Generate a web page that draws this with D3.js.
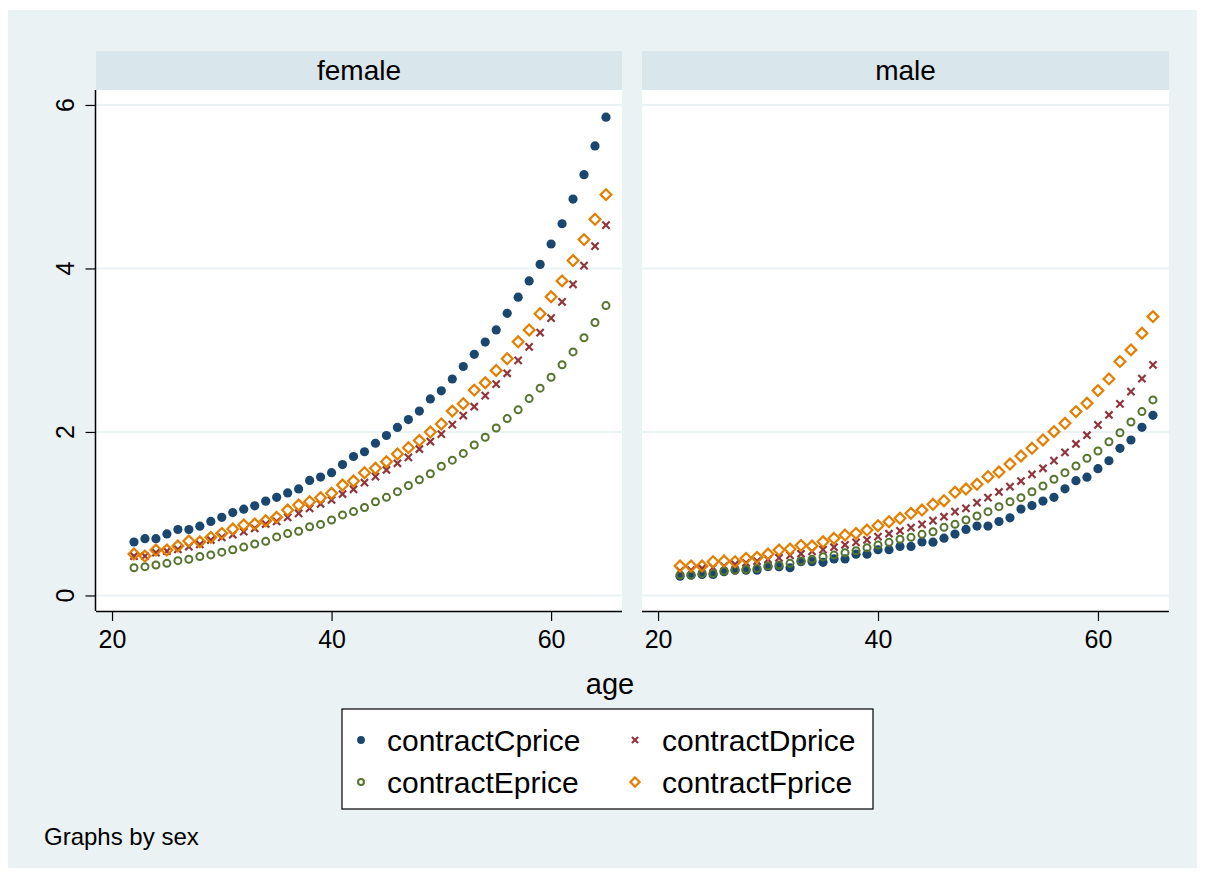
<!DOCTYPE html>
<html>
<head>
<meta charset="utf-8">
<script src="https://cdn.jsdelivr.net/npm/d3@7"></script>
<style>
  html, body { margin: 0; padding: 0; background: #ffffff; }
  svg { display: block; }
  text { font-family: "Liberation Sans", Arial, Helvetica, sans-serif; fill: #000; }
</style>
</head>
<body>
<svg id="chart" width="1205" height="878"></svg>
<script>
// ---- data: price by age for each contract, split by sex ----
const ages = [22,23,24,25,26,27,28,29,30,31,32,33,34,35,36,37,38,39,40,41,42,43,
              44,45,46,47,48,49,50,51,52,53,54,55,56,57,58,59,60,61,62,63,64,65];

const femaleC = [0.654,0.695,0.695,0.753,0.807,0.807,0.848,0.906,0.956,1.014,
                 1.055,1.096,1.154,1.200,1.254,1.303,1.407,1.448,1.502,1.601,
                 1.700,1.758,1.862,1.957,2.056,2.151,2.255,2.404,2.503,2.648,
                 2.801,2.950,3.099,3.248,3.451,3.649,3.848,4.050,4.299,4.547,
                 4.849,5.147,5.499,5.850];
const femaleD = [0.482,0.482,0.523,0.543,0.564,0.596,0.625,0.678,0.711,0.743,
                 0.780,0.821,0.874,0.907,0.956,1.005,1.066,1.119,1.168,1.241,
                 1.299,1.380,1.453,1.535,1.617,1.690,1.791,1.883,1.974,2.089,
                 2.201,2.309,2.445,2.586,2.718,2.875,3.041,3.215,3.393,3.591,
                 3.806,4.034,4.274,4.530];
const femaleE = [0.339,0.352,0.372,0.393,0.426,0.443,0.476,0.496,0.530,0.559,
                 0.592,0.629,0.662,0.716,0.757,0.786,0.840,0.869,0.923,0.985,
                 1.026,1.076,1.146,1.200,1.270,1.345,1.415,1.489,1.580,1.655,
                 1.738,1.841,1.936,2.048,2.164,2.271,2.408,2.536,2.669,2.822,
                 2.979,3.153,3.339,3.546];
const femaleF = [0.507,0.482,0.556,0.556,0.605,0.666,0.657,0.711,0.760,0.813,
                 0.862,0.874,0.914,0.956,1.045,1.106,1.147,1.196,1.250,1.351,
                 1.400,1.502,1.556,1.637,1.731,1.808,1.895,1.999,2.098,2.255,
                 2.346,2.512,2.602,2.752,2.896,3.103,3.248,3.447,3.654,3.848,
                 4.097,4.353,4.601,4.903];

const maleC = [0.236,0.248,0.257,0.257,0.290,0.310,0.310,0.310,0.352,0.352,
               0.339,0.414,0.414,0.405,0.447,0.447,0.505,0.505,0.559,0.559,
               0.600,0.600,0.654,0.652,0.701,0.751,0.808,0.849,0.849,0.905,
               0.950,1.057,1.100,1.155,1.200,1.305,1.404,1.447,1.551,1.648,
               1.800,1.902,2.057,2.203];
const maleD = [0.300,0.310,0.330,0.340,0.360,0.380,0.400,0.420,0.440,0.460,
               0.490,0.510,0.540,0.560,0.590,0.620,0.650,0.680,0.720,0.755,
               0.790,0.830,0.870,0.915,0.963,1.025,1.066,1.135,1.196,1.266,
               1.331,1.400,1.482,1.556,1.649,1.751,1.853,1.960,2.086,2.208,
               2.343,2.493,2.652,2.820];
const maleE = [0.250,0.250,0.270,0.270,0.299,0.311,0.319,0.331,0.360,0.372,
               0.393,0.421,0.442,0.474,0.494,0.523,0.547,0.584,0.617,0.650,
               0.687,0.711,0.748,0.780,0.833,0.870,0.923,0.972,1.025,1.086,
               1.147,1.196,1.269,1.339,1.421,1.502,1.584,1.678,1.767,1.881,
               1.991,2.122,2.249,2.392];
const maleF = [0.360,0.360,0.360,0.413,0.421,0.413,0.454,0.466,0.507,0.556,
               0.568,0.613,0.605,0.657,0.699,0.739,0.760,0.800,0.853,0.902,
               0.944,1.005,1.045,1.115,1.159,1.262,1.302,1.360,1.453,1.510,
               1.608,1.706,1.800,1.902,2.004,2.106,2.249,2.351,2.506,2.649,
               2.861,3.004,3.208,3.411];

const seriesNames = ["contractCprice", "contractDprice", "contractEprice", "contractFprice"];
const panelNames = ["female", "male"];
const xTicks = [20, 40, 60];
const yTicks = [0, 2, 4, 6];

// ---- styling ----
const colors = { contractCprice: "#1a476f", contractDprice: "#90353b",
                 contractEprice: "#55752f", contractFprice: "#e37e00" };
const shapes = { contractCprice: "dot", contractDprice: "cross",
                 contractEprice: "ring", contractFprice: "diamond" };

const panelData = {
  female: { contractCprice: femaleC, contractDprice: femaleD, contractEprice: femaleE, contractFprice: femaleF },
  male:   { contractCprice: maleC,   contractDprice: maleD,   contractEprice: maleE,   contractFprice: maleF }
};

const svg = d3.select("#chart");

// outer graph region
svg.append("rect").attr("x", 8).attr("y", 10).attr("width", 1189).attr("height", 858)
   .attr("fill", "#eaf2f3");

const plotTop = 90, plotBottom = 611;
const panels = [
  { name: panelNames[0], left: 96,  right: 622 },
  { name: panelNames[1], left: 642, right: 1169 }
];

const y = d3.scaleLinear().domain([-0.19, 6.183]).range([plotBottom, plotTop]);

function drawMarker(g, shape, color, cx, cy, s) {
  if (shape === "dot") {
    g.append("circle").attr("cx", cx).attr("cy", cy).attr("r", 4.6 * s).attr("fill", color);
  } else if (shape === "ring") {
    g.append("circle").attr("cx", cx).attr("cy", cy).attr("r", 3.5 * s)
     .attr("fill", "none").attr("stroke", color).attr("stroke-width", 2);
  } else if (shape === "diamond") {
    const d = 5.4 * s;
    g.append("path").attr("d", `M${cx},${cy - d}L${cx + d},${cy}L${cx},${cy + d}L${cx - d},${cy}Z`)
     .attr("fill", "none").attr("stroke", color).attr("stroke-width", 2.2);
  } else if (shape === "cross") {
    const d = 3.6 * s;
    g.append("path").attr("d", `M${cx - d},${cy - d}L${cx + d},${cy + d}M${cx - d},${cy + d}L${cx + d},${cy - d}`)
     .attr("stroke", color).attr("stroke-width", 2.2).attr("fill", "none");
  }
}

panels.forEach((p, pi) => {
  const x = d3.scaleLinear().domain([18.54, 66.46]).range([p.left, p.right]);
  const g = svg.append("g");

  // header strip
  g.append("rect").attr("x", p.left).attr("y", 51).attr("width", p.right - p.left).attr("height", 39)
   .attr("fill", "#d9e6eb");
  g.append("text").attr("x", (p.left + p.right) / 2).attr("y", 80)
   .attr("text-anchor", "middle").style("font-size", "28px").text(p.name);

  // plot region
  g.append("rect").attr("x", p.left).attr("y", plotTop).attr("width", p.right - p.left)
   .attr("height", plotBottom - plotTop).attr("fill", "#ffffff");

  // horizontal grid
  g.selectAll("line.grid").data(yTicks).join("line").attr("class", "grid")
   .attr("x1", p.left).attr("x2", p.right)
   .attr("y1", d => y(d)).attr("y2", d => y(d))
   .attr("stroke", "#eaf2f3").attr("stroke-width", 2);

  // x axis
  const xAxis = d3.axisBottom(x).tickValues(xTicks).tickSize(10).tickPadding(9).tickSizeOuter(0);
  const xg = g.append("g").attr("transform", `translate(0,${plotBottom})`).call(xAxis);
  xg.select(".domain").attr("d", `M${p.left},0.5H${p.right}`).attr("stroke", "#000").attr("stroke-width", 1.5);
  xg.selectAll(".tick line").attr("stroke", "#000").attr("stroke-width", 1.2);
  xg.selectAll(".tick text").style("font-size", "25px")
    .style("font-family", "'Liberation Sans', Arial, sans-serif").attr("fill", "#000");

  // y axis only on the first panel
  if (pi === 0) {
    const yAxis = d3.axisLeft(y).tickValues(yTicks).tickSize(10).tickSizeOuter(0).tickFormat("");
    const yg = g.append("g").attr("transform", `translate(${p.left - 0.5},0)`).call(yAxis);
    yg.select(".domain").attr("d", `M0,${plotTop}V${plotBottom}`).attr("stroke", "#000").attr("stroke-width", 1.5);
    yg.selectAll(".tick line").attr("stroke", "#000").attr("stroke-width", 1.2);
    g.selectAll("text.ylab").data(yTicks).join("text").attr("class", "ylab")
     .attr("transform", d => `translate(74,${y(d)}) rotate(-90)`)
     .attr("text-anchor", "middle").style("font-size", "25px").text(d => d);
  }

  // markers
  const mg = g.append("g");
  seriesNames.forEach(s => {
    const vals = panelData[p.name][s];
    ages.forEach((a, i) => drawMarker(mg, shapes[s], colors[s], x(a), y(vals[i]), 1));
  });
});

// x axis title
svg.append("text").attr("x", 610).attr("y", 694).attr("text-anchor", "middle")
   .style("font-size", "29px").text("age");

// legend
const lg = svg.append("g");
lg.append("rect").attr("x", 342).attr("y", 709).attr("width", 531).attr("height", 100)
  .attr("fill", "#ffffff").attr("stroke", "#000").attr("stroke-width", 1.2);
const legendPos = [
  { mx: 361, tx: 387, ty: 751 },
  { mx: 635, tx: 662, ty: 751 },
  { mx: 361, tx: 387, ty: 793 },
  { mx: 635, tx: 662, ty: 793 }
];
seriesNames.forEach((s, i) => {
  const lp = legendPos[i];
  drawMarker(lg, shapes[s], colors[s], lp.mx, lp.ty - 11, 0.85);
  lg.append("text").attr("x", lp.tx).attr("y", lp.ty).style("font-size", "30px").text(s);
});

// note
svg.append("text").attr("x", 44).attr("y", 845).style("font-size", "24px").text("Graphs by sex");
</script>
</body>
</html>
